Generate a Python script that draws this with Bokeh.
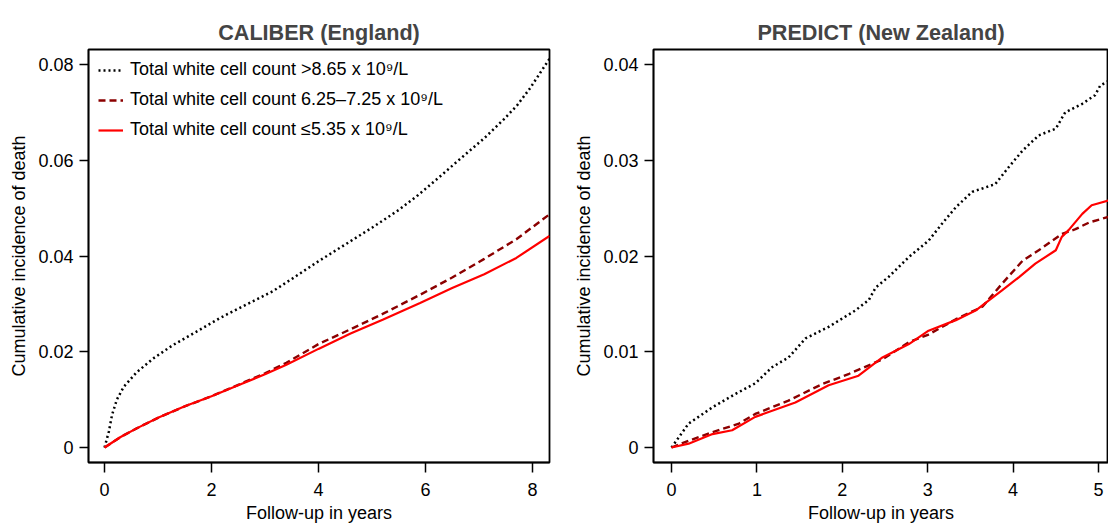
from bokeh.plotting import figure
from bokeh.layouts import row
from bokeh.models import Range1d, FixedTicker
from bokeh.embed import file_html
from bokeh.resources import INLINE

FONT = "Liberation Sans"

# ---------------- data ----------------
legend_labels = [
    "Total white cell count >8.65 x 10\u2079/L",
    "Total white cell count 6.25\u20137.25 x 10\u2079/L",
    "Total white cell count \u22645.35 x 10\u2079/L",
]

# CALIBER (England)
caliber_t_high = [0, 0.08, 0.14, 0.23, 0.36, 0.6, 0.91, 1.28, 1.72, 2.15, 2.64, 3.14, 3.5,
                  4.0, 4.5, 5.0, 5.5, 5.86, 6.23, 6.6, 7.1, 7.47, 7.71, 7.96, 8.32]
caliber_v_high = [0, 0.0033, 0.0068, 0.0100, 0.0127, 0.0157, 0.0186, 0.0214, 0.0242, 0.027,
                  0.0298, 0.0326, 0.0352, 0.0389, 0.0424, 0.0459, 0.0496, 0.0527, 0.0562,
                  0.0598, 0.0646, 0.0686, 0.0714, 0.0751, 0.0812]
caliber_t_mid = [0, 0.3, 0.6, 1.0, 1.5, 2.0, 2.5, 3.0, 3.4, 4.0, 4.6, 5.2, 5.9, 6.5, 7.1, 7.7, 8.32]
caliber_v_mid = [0, 0.0022, 0.0040, 0.0062, 0.0086, 0.0107, 0.0131, 0.0155, 0.0177, 0.0216,
                 0.0247, 0.0279, 0.0319, 0.0355, 0.0394, 0.0435, 0.0487]
caliber_t_low = [0, 0.3, 0.6, 1.0, 1.5, 2.0, 2.5, 3.0, 3.4, 4.0, 4.6, 5.2, 5.9, 6.5, 7.1, 7.7, 8.32]
caliber_v_low = [0, 0.0022, 0.0040, 0.0062, 0.0086, 0.0107, 0.0130, 0.0153, 0.0173, 0.0206,
                 0.0238, 0.0267, 0.0302, 0.0333, 0.0362, 0.0396, 0.0442]

# PREDICT (New Zealand)
predict_t_high = [0, 0.20, 0.48, 0.75, 0.98, 1.18, 1.37, 1.57, 1.84, 2.15, 2.31, 2.39, 2.54,
                  2.78, 3.01, 3.17, 3.33, 3.52, 3.79, 3.95, 4.11, 4.30, 4.50, 4.61, 4.81,
                  4.96, 5.02, 5.12]
predict_v_high = [0, 0.0025, 0.0042, 0.0056, 0.0067, 0.0084, 0.0094, 0.0114, 0.0126, 0.0143,
                  0.0154, 0.0167, 0.0178, 0.0199, 0.0216, 0.0234, 0.0251, 0.0267, 0.0275,
                  0.0293, 0.0310, 0.0326, 0.0333, 0.0350, 0.0359, 0.0368, 0.0378, 0.0383]
predict_t_mid = [0, 0.20, 0.48, 0.79, 0.98, 1.37, 1.76, 2.08, 2.47, 2.78, 3.01, 3.33, 3.64,
                 3.87, 4.11, 4.30, 4.57, 4.73, 4.89, 5.12]
predict_v_mid = [0, 0.0007, 0.0016, 0.0025, 0.0035, 0.0049, 0.0066, 0.0077, 0.0092, 0.0110,
                 0.0118, 0.0134, 0.0147, 0.0171, 0.0195, 0.0206, 0.0223, 0.0228, 0.0235, 0.0241]
predict_t_low = [0, 0.20, 0.48, 0.71, 0.98, 1.45, 1.84, 2.19, 2.47, 2.78, 3.01, 3.33, 3.56,
                 3.72, 3.87, 4.07, 4.26, 4.50, 4.57, 4.65, 4.81, 4.92, 5.12]
predict_v_low = [0, 0.0004, 0.0014, 0.0018, 0.0032, 0.0047, 0.0065, 0.0075, 0.0094, 0.0108,
                 0.0122, 0.0133, 0.0143, 0.0154, 0.0164, 0.0178, 0.0192, 0.0206, 0.0220,
                 0.0227, 0.0244, 0.0253, 0.0258]

caliber_xticks = [0, 2, 4, 6, 8]
caliber_yticks = [0, 0.02, 0.04, 0.06, 0.08]
caliber_ytick_labels = ["0", "0.02", "0.04", "0.06", "0.08"]
predict_xticks = [0, 1, 2, 3, 4, 5]
predict_yticks = [0, 0.01, 0.02, 0.03, 0.04]
predict_ytick_labels = ["0", "0.01", "0.02", "0.03", "0.04"]

x_label = "Follow-up in years"
y_label = "Cumulative incidence of death"

COL_HIGH = "black"
COL_MID = "#8B0000"
COL_LOW = "#FF0000"


def make_panel(title, width, border_left, border_right, xr, yr,
               xticks, yticks, ylabels):
    p = figure(width=width, height=527, output_backend="svg", toolbar_location=None,
               x_range=Range1d(*xr), y_range=Range1d(*yr),
               min_border_left=border_left, min_border_right=border_right,
               min_border_top=49, min_border_bottom=65, title=title)
    p.title.text_font = FONT
    p.title.text_font_size = "21.6px"
    p.title.text_font_style = "bold"
    p.title.align = "center"
    p.title.standoff = 10
    p.title.text_line_height = 1.0
    p.grid.visible = False
    p.outline_line_color = "black"
    p.outline_line_width = 1.8
    p.background_fill_color = "white"
    p.border_fill_color = "white"

    p.xaxis.ticker = FixedTicker(ticks=xticks)
    p.yaxis.ticker = FixedTicker(ticks=yticks)
    p.yaxis.major_label_overrides = {v: s for v, s in zip(yticks, ylabels)}
    p.xaxis.axis_label = x_label
    p.yaxis.axis_label = y_label
    for ax in (p.xaxis, p.yaxis):
        ax.axis_line_color = "black"
        ax.axis_line_width = 1.5
        ax.major_tick_line_color = "black"
        ax.major_tick_line_width = 1.5
        ax.minor_tick_line_color = None
        ax.major_tick_in = 0
        ax.major_label_text_font = FONT
        ax.major_label_text_font_size = "18px"
        ax.major_label_text_color = "black"
        ax.axis_label_text_font = FONT
        ax.axis_label_text_font_size = "18px"
        ax.axis_label_text_font_style = "normal"
        ax.axis_label_text_color = "black"
    p.xaxis.major_tick_out = 10
    p.xaxis.major_label_standoff = 10
    p.xaxis.axis_label_standoff = 4
    p.yaxis.major_tick_out = 9
    p.yaxis.major_label_standoff = 6
    p.yaxis.axis_label_standoff = 6
    return p


p1 = make_panel("CALIBER (England)", 570, 88, 21, (-0.30, 8.32), (-0.00313, 0.08313),
                caliber_xticks, caliber_yticks, caliber_ytick_labels)
p1.line(caliber_t_high, caliber_v_high, line_color=COL_HIGH, line_width=2.5,
        line_dash="2 3", legend_label=legend_labels[0])
p1.line(caliber_t_mid, caliber_v_mid, line_color=COL_MID, line_width=2.4,
        line_dash="7 4", legend_label=legend_labels[1])
p1.line(caliber_t_low, caliber_v_low, line_color=COL_LOW, line_width=2.2,
        legend_label=legend_labels[2])

lg = p1.legend[0]
lg.location = "top_left"
lg.margin = 10
lg.padding = 3
lg.border_line_color = None
lg.background_fill_alpha = 0
lg.label_text_font = FONT
lg.label_text_font_size = "18px"
lg.label_text_color = "black"
lg.glyph_width = 25
lg.glyph_height = 20
lg.label_height = 20
lg.label_standoff = 7
lg.spacing = 9

p2 = make_panel("PREDICT (New Zealand)", 538, 83, 0, (-0.211, 5.117), (-0.001567, 0.041567),
                predict_xticks, predict_yticks, predict_ytick_labels)
p2.line(predict_t_high, predict_v_high, line_color=COL_HIGH, line_width=2.5, line_dash="2 3")
p2.line(predict_t_mid, predict_v_mid, line_color=COL_MID, line_width=2.4, line_dash="7 4")
p2.line(predict_t_low, predict_v_low, line_color=COL_LOW, line_width=2.2)

layout = row(p1, p2, spacing=0)

open("out.html", "w").write(file_html(layout, INLINE))
